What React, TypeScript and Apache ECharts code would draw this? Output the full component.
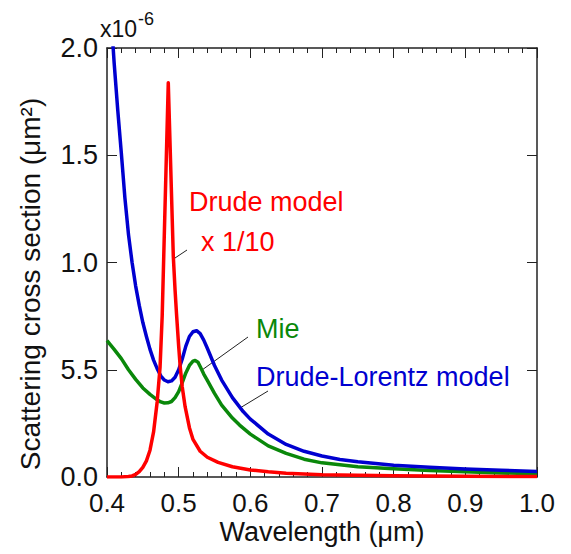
import React, { useEffect, useRef } from "react";
import * as echarts from "echarts";

const xTickLabels = ["0.4", "0.5", "0.6", "0.7", "0.8", "0.9", "1.0"];
const yTickLabels = ["0.0", "5.5", "1.0", "1.5", "2.0"];

// Drude-Lorentz model (blue), units of 1e-6 µm²
const drudeLorentzX = [0.400, 0.405, 0.410, 0.415, 0.420, 0.425, 0.430, 0.435, 0.440, 0.445, 0.450, 0.455, 0.460, 0.465, 0.470, 0.475, 0.480, 0.485, 0.490, 0.495, 0.500, 0.505, 0.510, 0.515, 0.520, 0.525, 0.530, 0.535, 0.540, 0.550, 0.560, 0.575, 0.590, 0.600, 0.625, 0.650, 0.675, 0.700, 0.725, 0.750, 0.800, 0.850, 0.900, 0.950, 1.000];
const drudeLorentzY = [2.45, 2.18, 1.93, 1.71, 1.51, 1.30, 1.13, 1.00, 0.89, 0.80, 0.72, 0.655, 0.595, 0.545, 0.505, 0.472, 0.452, 0.444, 0.448, 0.465, 0.50, 0.55, 0.61, 0.655, 0.677, 0.682, 0.668, 0.638, 0.60, 0.52, 0.452, 0.37, 0.305, 0.27, 0.20, 0.152, 0.12, 0.098, 0.082, 0.071, 0.055, 0.045, 0.037, 0.031, 0.026];

// Mie (green)
const mieX = [0.400, 0.410, 0.420, 0.430, 0.440, 0.450, 0.460, 0.470, 0.475, 0.480, 0.485, 0.490, 0.495, 0.500, 0.505, 0.510, 0.515, 0.520, 0.523, 0.527, 0.530, 0.535, 0.540, 0.550, 0.560, 0.575, 0.585, 0.600, 0.625, 0.650, 0.675, 0.700, 0.750, 0.800, 0.850, 0.900, 0.950, 1.000];
const mieY = [0.636, 0.595, 0.552, 0.50, 0.455, 0.415, 0.385, 0.36, 0.35, 0.345, 0.346, 0.352, 0.37, 0.398, 0.44, 0.485, 0.52, 0.54, 0.543, 0.535, 0.515, 0.48, 0.45, 0.39, 0.335, 0.275, 0.242, 0.20, 0.145, 0.11, 0.083, 0.066, 0.048, 0.038, 0.03, 0.024, 0.019, 0.015];

// Drude model x 1/10 (red)
const drudeX = [0.400, 0.420, 0.430, 0.435, 0.440, 0.445, 0.450, 0.455, 0.460, 0.465, 0.470, 0.474, 0.477, 0.4855, 0.4925, 0.495, 0.497, 0.500, 0.502, 0.505, 0.509, 0.515, 0.520, 0.530, 0.540, 0.555, 0.575, 0.600, 0.625, 0.650, 0.700, 0.750, 0.800, 0.900, 1.000];
const drudeY = [0.0, 0.0, 0.002, 0.005, 0.012, 0.025, 0.045, 0.075, 0.125, 0.21, 0.35, 0.51, 0.75, 1.838, 1.03, 0.87, 0.76, 0.61, 0.52, 0.42, 0.328, 0.23, 0.175, 0.12, 0.092, 0.068, 0.048, 0.033, 0.024, 0.018, 0.011, 0.008, 0.006, 0.004, 0.002];

const zip = (xs: number[], ys: number[]) => xs.map((x, i) => [x, ys[i]]);

const FONT = "'Liberation Sans', Arial, Helvetica, sans-serif";
const AXIS_COLOR = "#222";
const RED = "#ff0000";
const BLUE = "#0000d0";
const GREEN = "#0a880a";

export default function App() {
  const ref = useRef<HTMLDivElement>(null);
  useEffect(() => {
    if (!ref.current) return;
    const chart = echarts.init(ref.current, null, { renderer: "svg" });
    const xCommon = {
      type: "value" as const,
      min: 0.4,
      max: 1.0,
      interval: 0.1,
      axisLine: { show: true, onZero: false, lineStyle: { color: AXIS_COLOR, width: 1.5 } },
      axisTick: { show: true, inside: true, length: 10, lineStyle: { color: AXIS_COLOR, width: 1 } },
      minorTick: { show: true, splitNumber: 5, length: 5, lineStyle: { color: AXIS_COLOR, width: 1 } },
      splitLine: { show: false },
    };
    const yCommon = {
      type: "value" as const,
      min: 0,
      max: 2.0,
      interval: 0.5,
      axisLine: { show: true, onZero: false, lineStyle: { color: AXIS_COLOR, width: 1.5 } },
      axisTick: { show: true, inside: true, length: 10, lineStyle: { color: AXIS_COLOR, width: 1 } },
      splitLine: { show: false },
    };
    chart.setOption({
      animation: false,
      backgroundColor: "#fff",
      grid: { left: 107, top: 48, right: 34, bottom: 77, containLabel: false },
      xAxis: [
        {
          ...xCommon,
          position: "bottom",
          axisLabel: {
            show: true,
            margin: 13,
            fontSize: 26,
            lineHeight: 26,
            fontFamily: FONT,
            color: "#111",
            formatter: (v: number) => xTickLabels[Math.round((v - 0.4) * 10)] ?? "",
          },
        },
        { ...xCommon, position: "top", axisLabel: { show: false } },
      ],
      yAxis: [
        {
          ...yCommon,
          position: "left",
          axisLabel: {
            show: true,
            margin: 9,
            fontSize: 27,
            fontFamily: FONT,
            color: "#111",
            formatter: (v: number) => yTickLabels[Math.round(v * 2)] ?? "",
          },
        },
        { ...yCommon, position: "right", axisLabel: { show: false } },
      ],
      series: [
        {
          type: "line",
          name: "Mie",
          data: zip(mieX, mieY),
          showSymbol: false,
          smooth: false,
          clip: true,
          lineStyle: { color: GREEN, width: 3.5, join: "round" },
        },
        {
          type: "line",
          name: "Drude-Lorentz model",
          data: zip(drudeLorentzX, drudeLorentzY),
          showSymbol: false,
          smooth: false,
          clip: true,
          lineStyle: { color: BLUE, width: 3.5, join: "round" },
        },
        {
          type: "line",
          name: "Drude model",
          data: zip(drudeX, drudeY),
          showSymbol: false,
          smooth: false,
          clip: true,
          lineStyle: { color: RED, width: 3.5, join: "round" },
        },
      ],
      graphic: [
        { type: "text", left: 100, top: 17, style: { text: "x10", font: `23px ${FONT}`, fill: "#111" } },
        { type: "text", left: 138, top: 10, style: { text: "-6", font: `18px ${FONT}`, fill: "#111" } },
        {
          type: "text",
          x: 30,
          y: 284,
          rotation: Math.PI / 2,
          style: {
            text: "Scattering cross section (μm²)",
            font: `28px ${FONT}`,
            fill: "#111",
            align: "center",
            verticalAlign: "middle",
          },
        },
        {
          type: "text",
          x: 322,
          y: 532,
          style: { text: "Wavelength (μm)", font: `27px ${FONT}`, fill: "#111", align: "center", verticalAlign: "middle" },
        },
        { type: "text", x: 189, y: 202, style: { text: "Drude model", font: `27px ${FONT}`, fill: RED, verticalAlign: "middle" } },
        { type: "text", x: 201, y: 242, style: { text: "x 1/10", font: `27px ${FONT}`, fill: RED, verticalAlign: "middle" } },
        { type: "line", shape: { x1: 175, y1: 258, x2: 187, y2: 250 }, style: { stroke: "#222", lineWidth: 1 } },
        { type: "text", x: 256, y: 329, style: { text: "Mie", font: `27px ${FONT}`, fill: GREEN, verticalAlign: "middle" } },
        { type: "line", shape: { x1: 202, y1: 370, x2: 248, y2: 337 }, style: { stroke: "#222", lineWidth: 1 } },
        { type: "text", x: 256, y: 377, style: { text: "Drude-Lorentz model", font: `27px ${FONT}`, fill: BLUE, verticalAlign: "middle" } },
        { type: "line", shape: { x1: 240, y1: 408, x2: 268, y2: 391 }, style: { stroke: "#222", lineWidth: 1 } },
      ],
    });
    return () => chart.dispose();
  }, []);
  return <div ref={ref} style={{ position: "absolute", left: 0, top: 0, width: 571, height: 554 }} />;
}
